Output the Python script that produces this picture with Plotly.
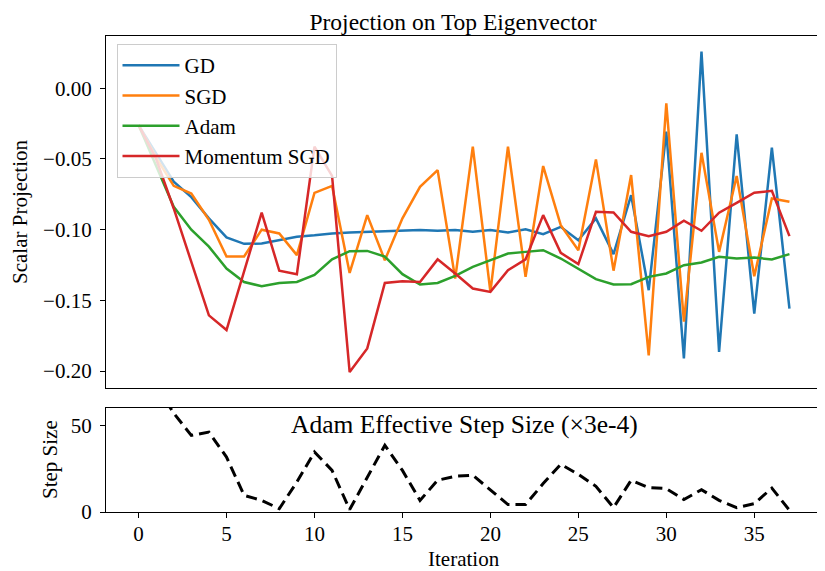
import plotly.graph_objects as go

# iterations 0..37
iters = list(range(38))

# projection on top eigenvector
gd = [-0.026, -0.046, -0.066, -0.077, -0.092, -0.1055, -0.110, -0.1098, -0.1075, -0.105,
      -0.104, -0.1027, -0.102, -0.1015, -0.1008, -0.1008, -0.1003, -0.1008, -0.1003, -0.1015,
      -0.1003, -0.102, -0.0997, -0.1032, -0.098, -0.1075, -0.092, -0.1173, -0.0756, -0.1428,
      -0.0307, -0.191, 0.0259, -0.1865, -0.0326, -0.1594, -0.042, -0.1558]
sgd = [-0.026, -0.049, -0.069, -0.0744, -0.093, -0.119, -0.119, -0.100, -0.1027, -0.118,
       -0.074, -0.069, -0.1306, -0.0897, -0.1216, -0.092, -0.0697, -0.0579, -0.1346, -0.0413,
       -0.144, -0.0413, -0.1334, -0.055, -0.0968, -0.1145, -0.0503, -0.129, -0.0614, -0.1889,
       -0.0106, -0.165, -0.0456, -0.1157, -0.0621, -0.133, -0.0779, -0.0803]
adam = [-0.026, -0.055, -0.0838, -0.100, -0.112, -0.1275, -0.137, -0.140, -0.1377, -0.137,
        -0.132, -0.121, -0.1152, -0.115, -0.119, -0.1315, -0.1388, -0.1377, -0.1327, -0.1263,
        -0.1216, -0.1169, -0.1157, -0.1145, -0.1204, -0.128, -0.135, -0.1388, -0.1386, -0.1334,
        -0.131, -0.1251, -0.1232, -0.1192, -0.1204, -0.1197, -0.1211, -0.1173]
momentum = [-0.026, -0.05, -0.085, -0.123, -0.1606, -0.171, -0.130, -0.088, -0.129, -0.1315,
            -0.0413, -0.062, -0.2007, -0.184, -0.1377, -0.1365, -0.137, -0.121, -0.131, -0.1416,
            -0.144, -0.1287, -0.121, -0.0897, -0.1164, -0.1244, -0.0874, -0.0878, -0.1015, -0.1046,
            -0.1015, -0.0937, -0.1008, -0.088, -0.081, -0.0739, -0.0725, -0.1046]

# Adam effective step size (x3e-4)
step_size = [100, 73, 57, 44.2, 46.1, 31.7, 9.6, 6.7, 1.9, 17.3,
             34.6, 24, 1.4, 20.2, 38.5, 24, 6.7, 18.3, 20.6, 21.2,
             12.5, 4.3, 4.3, 16.4, 27.5, 21.7, 14.8, 2.5, 18.3, 14.1,
             13.5, 7.2, 12.9, 6.7, 2.5, 4.8, 13.8, 1.0]

series = [("GD", gd, "#1f77b4"), ("SGD", sgd, "#ff7f0e"),
          ("Adam", adam, "#2ca02c"), ("Momentum SGD", momentum, "#d62728")]

FONT = "Liberation Serif"
# the page body has an 8px margin, so the figure is made 8px smaller and
# every position below is the reference pixel minus that offset
OFF = 8
W, H = 825 - OFF, 571 - OFF
ML, MR, MT, MB = 106 - OFF, 3, 36 - OFF, 59
PW, PH = W - ML - MR, H - MT - MB


def px(xr, yr):
    # reference pixel -> paper fraction
    return (xr - OFF - ML) / PW, (H - (yr - OFF) - MB) / PH


fig = go.Figure()
for name, vals, col in series:
    fig.add_trace(go.Scatter(x=iters, y=vals, mode="lines", name=name,
                             line=dict(color=col, width=2.5), xaxis="x", yaxis="y"))

fig.add_trace(go.Scatter(x=iters, y=step_size, mode="lines", showlegend=False,
                         line=dict(color="black", width=3, dash="11px,6px"),
                         xaxis="x2", yaxis="y2"))

axis_common = dict(showline=True, linecolor="black", linewidth=1.3, mirror=True,
                   showgrid=False, zeroline=False, ticklen=5, automargin=False,
                   tickcolor="black", tickwidth=1.2, tickfont=dict(size=21, color="black"))

lx, ly = px(116.5, 44)
fig.update_layout(
    width=W, height=H,
    margin=dict(l=ML, r=MR, t=MT, b=MB),
    plot_bgcolor="white", paper_bgcolor="white",
    font=dict(family=FONT, size=21, color="black"),
    title=dict(text="Projection on Top Eigenvector", x=px(453, 0)[0], xref="paper",
               xanchor="center", y=1 - (22 - OFF) / H, yref="container", yanchor="middle",
               font=dict(size=23.5)),
    xaxis=dict(domain=[0, 1], range=[-1.85, 38.85], anchor="y", showticklabels=False,
               ticks="", **axis_common),
    yaxis=dict(domain=[px(0, 388)[1], 1], range=[-0.212, 0.037], anchor="x", ticks="outside",
               tickvals=[0, -0.05, -0.1, -0.15, -0.2], tickformat=".2f",
               ticklabelstandoff=4, **axis_common),
    xaxis2=dict(domain=[0, 1], range=[-1.85, 38.85], anchor="y2", ticks="outside",
                tickvals=[0, 5, 10, 15, 20, 25, 30, 35], ticklabelstandoff=-2, **axis_common),
    yaxis2=dict(domain=[0, px(0, 408)[1]], range=[0, 60], anchor="x2", ticks="outside",
                tickvals=[0, 50], ticklabelstandoff=4, **axis_common),
    legend=dict(x=lx, y=ly, xanchor="left", yanchor="top",
                bgcolor="rgba(255,255,255,0.8)", bordercolor="#cccccc", borderwidth=1,
                font=dict(size=21), itemwidth=57, tracegroupgap=0),
    showlegend=True,
)

# axis titles placed like the matplotlib labels
for text, xr, yr, ang in [("Scalar Projection", 20, 212, -90), ("Step Size", 50, 460, -90),
                          ("Iteration", 464, 559, 0)]:
    ax_, ay_ = px(xr, yr)
    fig.add_annotation(text=text, x=ax_, y=ay_, xref="paper", yref="paper", textangle=ang,
                       xanchor="center", yanchor="middle", showarrow=False,
                       font=dict(size=21))

fig.add_annotation(text="Adam Effective Step Size (\u00d73e-4)", x=0.5, y=px(0, 424)[1],
                   xref="x2 domain", yref="paper", xanchor="center", yanchor="middle",
                   showarrow=False, font=dict(size=25.5))

fig.write_html("out.html")
